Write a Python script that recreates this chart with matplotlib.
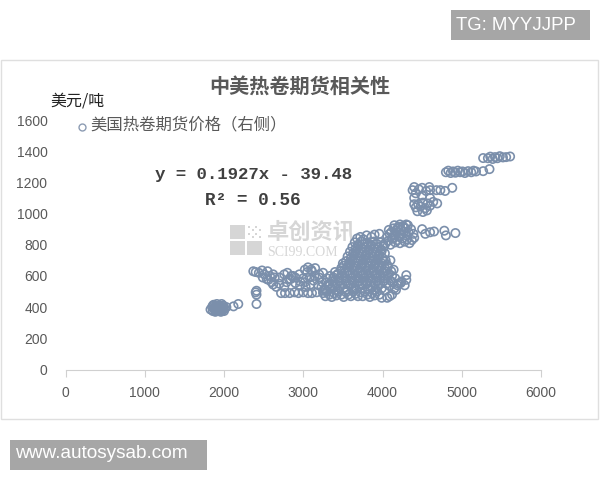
import matplotlib
matplotlib.use('Agg')
import matplotlib.pyplot as plt
from matplotlib.patches import Rectangle

plt.rcParams['font.family'] = ['Noto Sans CJK SC', 'DejaVu Sans']

# 低位
low_x = [1830, 1850, 1860, 1870, 1880, 1890, 1900, 1910, 1920, 1930, 1940, 1950, 1960, 1970, 1980, 1990, 2000, 1870, 1890, 1910, 1930, 1950, 1970, 1990, 2010, 1860, 1900, 1940, 1980, 2030, 2120, 2180, 2410, 2410, 2410, 2400]
low_y = [385, 400, 375, 415, 390, 370, 405, 420, 385, 375, 410, 395, 370, 420, 385, 400, 375, 395, 380, 395, 405, 380, 400, 410, 390, 410, 375, 390, 380, 400, 405, 420, 420, 480, 505, 495]
# 中间一段
mid_x = [2370, 2400, 2440, 2480, 2510, 2550, 2580, 2620, 2490, 2540, 2600, 2660, 2640, 2700, 2760, 2800, 2850, 2900, 2950, 3000, 3050, 3100, 3150, 3200, 2720, 2770, 2830, 2890, 2940, 3000, 3060, 3110, 3170, 2790, 2840, 2900, 2960, 3020, 3080, 3140, 3200, 3250, 2700, 2760, 2820, 2870, 2960, 3030, 3090, 3130, 3190, 3240, 3280, 3020, 3060, 3110, 2560, 2620]
mid_y = [630, 625, 620, 635, 610, 630, 600, 610, 590, 580, 560, 530, 590, 550, 530, 620, 600, 590, 610, 585, 625, 640, 650, 610, 490, 490, 490, 495, 490, 495, 490, 490, 495, 560, 580, 555, 565, 560, 590, 600, 590, 620, 590, 610, 580, 600, 540, 530, 545, 570, 540, 560, 510, 640, 655, 630, 575, 545]
# 密集区
dense_x = [3250, 3280, 3300, 3330, 3360, 3390, 3420, 3450, 3480, 3510, 3540, 3570, 3600, 3630, 3660, 3690, 3720, 3750, 3780, 3810, 3840, 3870, 3900, 3930, 3960, 3990,
           3230, 3270, 3310, 3350, 3390, 3430, 3470, 3510, 3550, 3590, 3630, 3670, 3710, 3750, 3790, 3830, 3870, 3910, 3950, 3990, 4030,
           3250, 3290, 3330, 3370, 3410, 3450, 3490, 3530, 3570, 3610, 3650, 3690, 3730, 3770, 3810, 3850, 3890, 3930, 3970, 4010, 4050, 4090,
           3300, 3340, 3380, 3420, 3460, 3500, 3540, 3580, 3620, 3660, 3700, 3740, 3780, 3820, 3860, 3900, 3940, 3980, 4020, 4060, 4100,
           3400, 3440, 3480, 3520, 3560, 3600, 3640, 3680, 3720, 3760, 3800, 3840, 3880, 3920, 3960, 4000, 4040, 4080, 4120,
           3480, 3510, 3550, 3590, 3630, 3670, 3710, 3750, 3790, 3830, 3870, 3910, 3950, 3990, 4030, 4070, 4110,
           3500, 3540, 3580, 3620, 3660, 3700, 3740, 3780, 3820, 3860, 3900, 3940, 3980, 4020, 4060,
           3560, 3600, 3640, 3680, 3720, 3760, 3800, 3840, 3880, 3920, 3960, 4000, 4040,
           3590, 3630, 3670, 3710, 3750, 3790, 3830, 3870, 3910, 3950, 3990, 4030,
           3620, 3660, 3700, 3740, 3780, 3820, 3860, 3900, 3940, 3980, 4020,
           3650, 3690, 3730, 3770, 3810, 3850, 3890, 3930, 3970, 4010,
           3680, 3720, 3760, 3800, 3860, 3900, 3960]
dense_y = [490, 470, 500, 480, 465, 490, 475, 500, 480, 465, 495, 480, 470, 500, 485, 470, 495, 470, 500, 480, 465, 490, 475, 500, 480, 460,
           530, 515, 540, 520, 530, 510, 535, 520, 510, 540, 525, 515, 535, 520, 545, 515, 530, 510, 540, 520, 505,
           505, 560, 550, 565, 550, 570, 555, 565, 550, 570, 555, 565, 550, 570, 555, 565, 550, 570, 555, 565, 550, 535,
           585, 600, 590, 605, 590, 600, 585, 605, 590, 600, 585, 605, 590, 600, 585, 605, 590, 600, 585, 600, 570,
           625, 615, 635, 620, 630, 615, 635, 620, 630, 615, 635, 620, 630, 615, 635, 620, 630, 615, 600,
           650, 665, 655, 670, 655, 665, 650, 670, 655, 665, 650, 670, 655, 665, 650, 660, 630,
           680, 695, 685, 700, 685, 695, 680, 700, 685, 695, 680, 700, 685, 695, 670,
           725, 715, 730, 715, 725, 710, 730, 715, 725, 710, 730, 715, 700,
           755, 745, 760, 745, 755, 740, 760, 745, 755, 740, 760, 745,
           785, 775, 790, 775, 785, 770, 790, 775, 785, 770, 790,
           815, 800, 820, 805, 815, 800, 820, 805, 815, 800,
           840, 850, 835, 860, 850, 865, 870]
# 密集区右边散点
side_x = [4130, 4160, 4200, 4240, 4280, 4300, 4300, 4150, 4190, 4230, 4120, 4170, 4090, 4140, 4060, 4100]
side_y = [560, 585, 550, 565, 540, 575, 605, 520, 540, 555, 480, 510, 470, 640, 460, 700]
# 右上角往上
upper_x = [4040, 4070, 4100, 4130, 4160, 4190, 4220, 4250, 4280, 4310, 4340, 4370, 4400, 4060, 4090, 4120, 4150, 4180, 4210, 4240, 4270, 4300, 4330, 4360, 4390, 4080, 4110, 4140, 4170, 4200, 4230, 4260, 4290, 4320, 4150, 4190, 4220, 4260, 4300,
           4500, 4540, 4600, 4650, 4780, 4800, 4920, 4400, 4420, 4450, 4480, 4510, 4540, 4570, 4600, 4640, 4690, 4440, 4510, 4560, 4380, 4400, 4420, 4460, 4500, 4550, 4590, 4600, 4680, 4730, 4790, 4880, 4400, 4500, 4600,
           4800, 4830, 4860, 4890, 4920, 4950, 4980, 5010, 5040, 5080, 5120, 5150, 5180, 5270, 5350, 5270, 5330, 5360, 5390, 5420, 5450, 5480, 5520, 5560, 5610]
upper_y = [810, 825, 800, 840, 815, 830, 810, 840, 820, 835, 810, 830, 845, 850, 870, 840, 860, 880, 850, 870, 885, 860, 880, 900, 870, 895, 880, 905, 890, 915, 895, 920, 905, 925, 925, 905, 930, 915, 930,
           900, 870, 880, 885, 890, 860, 875, 1060, 1040, 1060, 1045, 1070, 1035, 1065, 1050, 1075, 1065, 1015, 1010, 1020, 1150, 1170, 1130, 1155, 1165, 1145, 1170, 1150, 1150, 1150, 1145, 1165, 1100, 1115, 1100,
           1265, 1275, 1260, 1270, 1262, 1275, 1265, 1270, 1260, 1272, 1265, 1275, 1270, 1272, 1285, 1356, 1355, 1365, 1350, 1362, 1355, 1368, 1360, 1362, 1366]

years_x = [0, 1000, 2000, 3000, 4000, 5000, 6000]
price_y = [0, 200, 400, 600, 800, 1000, 1200, 1400, 1600]

W, H = 600, 480
fig = plt.figure(figsize=(6, 4.8), dpi=100)

# 像素坐标 -> 图坐标
def fx(p):
    return p / W
def fy(p):
    return 1 - p / H

def box(x0, y0, x1, y1, **kw):
    fig.patches.append(Rectangle((fx(x0), fy(y1)), (x1 - x0) / W, (y1 - y0) / H,
                                 transform=fig.transFigure, **kw))

box(1, 60, 598, 419, fc='white', ec='#dfdfdf', lw=1.0, zorder=-2)

# 水印
wm = '#d6d6d6'
box(230, 225, 245, 239, fc=wm, ec='none', zorder=-1)
box(230, 241, 245, 255, fc=wm, ec='none', zorder=-1)
box(247, 241, 262, 255, fc=wm, ec='none', zorder=-1)
for i in range(4):
    for j in range(4):
        if (i + j) % 2 == 0:
            box(248 + i * 3.5, 226 + j * 3.3, 250 + i * 3.5, 228 + j * 3.3, fc=wm, ec='none', zorder=-1)
fig.text(fx(267), fy(232), '卓创资讯', fontsize=16, color=wm, fontweight='bold', va='center', ha='left', zorder=-1)
fig.text(fx(267), fy(252), 'SCI99.COM', fontsize=10, color=wm, family='Liberation Serif', va='center', ha='left', zorder=-1)

ax = fig.add_axes([fx(65.5), fy(369.5), (541 - 65.5) / W, (369.5 - 120) / H])
ax.patch.set_alpha(0)
for s in ['top', 'right', 'left']:
    ax.spines[s].set_visible(False)
ax.spines['bottom'].set_color('#d0d0d0')

all_x = low_x + mid_x + dense_x + side_x + upper_x
all_y = low_y + mid_y + dense_y + side_y + upper_y
ax.scatter(all_x, all_y, s=36, facecolors='none', edgecolors='#7b8fab', linewidths=1.2)

ax.set_xlim(0, 6000)
ax.set_ylim(0, 1600)
ax.set_xticks(years_x)
ax.set_yticks(price_y)
ax.tick_params(axis='x', length=5, color='#d0d0d0', labelsize=10, labelcolor='#595959', pad=7)
ax.tick_params(axis='y', length=0, labelsize=10, labelcolor='#595959', pad=13)
for t in ax.get_xticklabels() + ax.get_yticklabels():
    t.set_fontfamily('Liberation Sans')

fig.text(fx(300), fy(86), '中美热卷期货相关性', fontsize=14.5, fontweight='bold', color='#595959', ha='center', va='center')
fig.text(fx(50), fy(101), '美元/吨', fontsize=11.5, color='#222222', ha='left', va='center')

# 图例
fig.add_artist(plt.Line2D([fx(82)], [fy(127)], marker='o', ms=5, mfc='none', mec='#8d9cb3', mew=1.0, ls='none'))
fig.text(fx(90), fy(125), '美国热卷期货价格（右侧）', fontsize=11.8, color='#595959', ha='left', va='center')

# 趋势线公式
fig.text(fx(155), fy(175), 'y = 0.1927x - 39.48', fontsize=12.5, family='Liberation Mono', fontweight='bold', color='#404040', ha='left', va='center')
fig.text(fx(205), fy(200), 'R² = 0.56', fontsize=12.8, family='Liberation Mono', fontweight='bold', color='#404040', ha='left', va='center')

# 角上的灰条
box(451, 10, 590, 40, fc='#a6a6a6', ec='none', zorder=2)
fig.text(fx(456), fy(25), 'TG: MYYJJPP', fontsize=13.4, family='Liberation Sans', color='white', ha='left', va='center')
box(10, 440, 207, 470, fc='#a6a6a6', ec='none', zorder=2)
fig.text(fx(15), fy(454), 'www.autosysab.com', fontsize=13.7, family='Liberation Sans', color='white', ha='left', va='center')

fig.savefig('out.png', dpi=100)
